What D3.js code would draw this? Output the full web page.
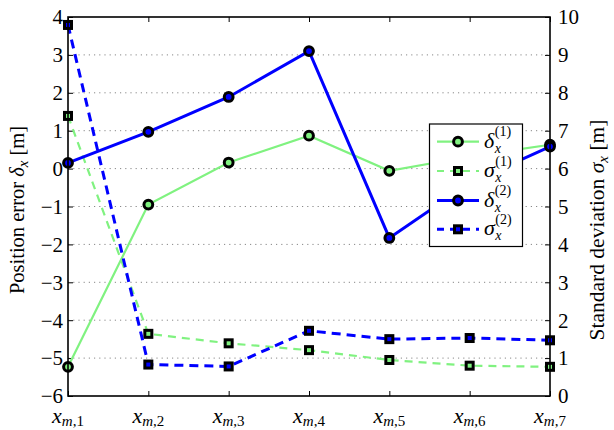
<!DOCTYPE html>
<html><head><meta charset="utf-8">
<script src="https://cdn.jsdelivr.net/npm/d3@7"></script>
<style>
body{margin:0;background:#fff}
svg{display:block}
text{font-family:"Liberation Serif","DejaVu Serif",serif;fill:#000}
</style>
</head><body>
<svg id="c" width="614" height="430"></svg>
<script>
// ---- data ----
const categories = ["1","2","3","4","5","6","7"];
const delta1 = [-5.23,-0.95,0.16,0.87,-0.06,0.32,0.63];
const sigma1 = [7.39,1.64,1.39,1.21,0.95,0.80,0.77];
const delta2 = [0.15,0.97,1.89,3.10,-1.83,-0.38,0.58];
const sigma2 = [9.79,0.83,0.78,1.72,1.50,1.53,1.47];
const leftTicks = [-6,-5,-4,-3,-2,-1,0,1,2,3,4];
const rightTicks = [0,1,2,3,4,5,6,7,8,9,10];
const seriesSym = ["\u03B4","\u03C3","\u03B4","\u03C3"];
const seriesSup = ["(1)","(1)","(2)","(2)"];

const GREEN = "#80f280", BLUE = "#0000ff";
const series = [
  {vals:delta1, axis:"L", color:GREEN, dash:null, w:2.2, mark:"circle"},
  {vals:sigma1, axis:"R", color:GREEN, dash:"8,6", w:2.2, mark:"square"},
  {vals:delta2, axis:"L", color:BLUE, dash:null, w:3, mark:"circle"},
  {vals:sigma2, axis:"R", color:BLUE, dash:"9,6", w:3, mark:"square"}
];

const L=68, R=550, T=17, B=396;
const svg = d3.select("#c");
const x = d3.scalePoint().domain(categories).range([L,R]);
const yL = d3.scaleLinear().domain([-6,4]).range([B,T]);
const yR = d3.scaleLinear().domain([0,10]).range([B,T]);

// grid
svg.append("g").selectAll("line").data(leftTicks.filter(d=>d>-6&&d<4)).join("line")
  .attr("x1",L).attr("x2",R).attr("y1",d=>yL(d)).attr("y2",d=>yL(d))
  .attr("stroke","#888").attr("stroke-width",1).attr("stroke-dasharray","1.2,4");

// axes (inward ticks)
const gL = svg.append("g").attr("transform",`translate(${L},0)`)
  .call(d3.axisLeft(yL).tickValues(leftTicks).tickSize(-5).tickFormat(""));
const gR = svg.append("g").attr("transform",`translate(${R},0)`)
  .call(d3.axisRight(yR).tickValues(rightTicks).tickSize(-5).tickFormat(""));
const gB = svg.append("g").attr("transform",`translate(0,${B})`)
  .call(d3.axisBottom(x).tickSize(-5).tickFormat(""));
const gT = svg.append("g").attr("transform",`translate(0,${T})`)
  .call(d3.axisTop(x).tickSize(-5).tickFormat(""));
[gL,gR,gB,gT].forEach(g=>{
  g.select(".domain").remove();
  g.selectAll("line").attr("stroke","#000").attr("stroke-width",1);
});

// series
const lineGen = s => d3.line().x((d,i)=>x(categories[i])).y(d=>(s.axis==="L"?yL:yR)(d));
function drawMarker(g, shape, cx, cy, color){
  if(shape==="circle"){
    g.append("circle").attr("cx",cx).attr("cy",cy).attr("r",4.4)
      .attr("fill",color).attr("stroke","#000").attr("stroke-width",3);
  } else {
    const s=7;
    g.append("rect").attr("x",cx-s/2).attr("y",cy-s/2).attr("width",s).attr("height",s)
      .attr("fill",color).attr("stroke","#000").attr("stroke-width",3);
  }
}
series.forEach(s=>{
  const g = svg.append("g");
  g.append("path").attr("d",lineGen(s)(s.vals)).attr("fill","none")
    .attr("stroke",s.color).attr("stroke-width",s.w)
    .attr("stroke-dasharray",s.dash);
  s.vals.forEach((v,i)=>drawMarker(g,s.mark,x(categories[i]),(s.axis==="L"?yL:yR)(v),s.color));
});

// frame
svg.append("rect").attr("x",L).attr("y",T).attr("width",R-L).attr("height",B-T)
  .attr("fill","none").attr("stroke","#000").attr("stroke-width",1.6);

// tick labels
svg.append("g").selectAll("text").data(leftTicks).join("text")
  .attr("x",L-5).attr("y",d=>yL(d)).attr("dy","0.35em").attr("text-anchor","end")
  .attr("font-size",21).text(d=>d3.format("")(d));
svg.append("g").selectAll("text").data(rightTicks).join("text")
  .attr("x",R+8).attr("y",d=>yR(d)).attr("dy","0.35em").attr("text-anchor","start")
  .attr("font-size",21).text(d=>d);
const xt = svg.append("g").selectAll("text").data(categories).join("text")
  .attr("x",d=>x(d)).attr("y",423).attr("text-anchor","middle");
xt.append("tspan").attr("font-style","italic").attr("font-size",22).text("x");
const sub = xt.append("tspan").attr("font-size",15).attr("dy",3);
sub.append("tspan").attr("font-style","italic").text("m");
sub.append("tspan").text(d=>","+d);

// axis titles
const t1 = svg.append("text").attr("transform","translate(24,210) rotate(-90)")
  .attr("text-anchor","middle").attr("font-size",20.5);
t1.append("tspan").text("Position error ");
t1.append("tspan").attr("font-style","italic").text("\u03B4");
t1.append("tspan").attr("font-style","italic").attr("font-size",15).attr("dy",4).text("x");
t1.append("tspan").attr("dy",-4).text(" [m]");
const t2 = svg.append("text").attr("transform","translate(604,230) rotate(-90)")
  .attr("text-anchor","middle").attr("font-size",21.5);
t2.append("tspan").text("Standard deviation ");
t2.append("tspan").attr("font-style","italic").text("\u03C3");
t2.append("tspan").attr("font-style","italic").attr("font-size",15).attr("dy",4).text("x");
t2.append("tspan").attr("dy",-4).text(" [m]");

// legend
const lg = svg.append("g");
lg.append("rect").attr("x",429.5).attr("y",124).attr("width",93).attr("height",122.5)
  .attr("fill","#fff").attr("stroke","#000").attr("stroke-width",1.2);
const rowY = [141.7,171,200.5,229.3];
series.forEach((s,i)=>{
  const y=rowY[i];
  lg.append("line").attr("x1",437).attr("x2",479).attr("y1",y).attr("y2",y)
    .attr("stroke",s.color).attr("stroke-width",s.w).attr("stroke-dasharray",s.dash?"7,6":null);
  drawMarker(lg,s.mark,458,y,s.color);
  const tx = lg.append("text").attr("x",484).attr("y",y+6).attr("font-size",22)
    .attr("font-style","italic").text(seriesSym[i]);
  const w = tx.node().getComputedTextLength();
  lg.append("text").attr("x",484+w+0.5).attr("y",y-5.5).attr("font-size",14).text(seriesSup[i]);
  lg.append("text").attr("x",484+w+0.5).attr("y",y+11).attr("font-size",14)
    .attr("font-style","italic").text("x");
});
</script>
</body></html>
